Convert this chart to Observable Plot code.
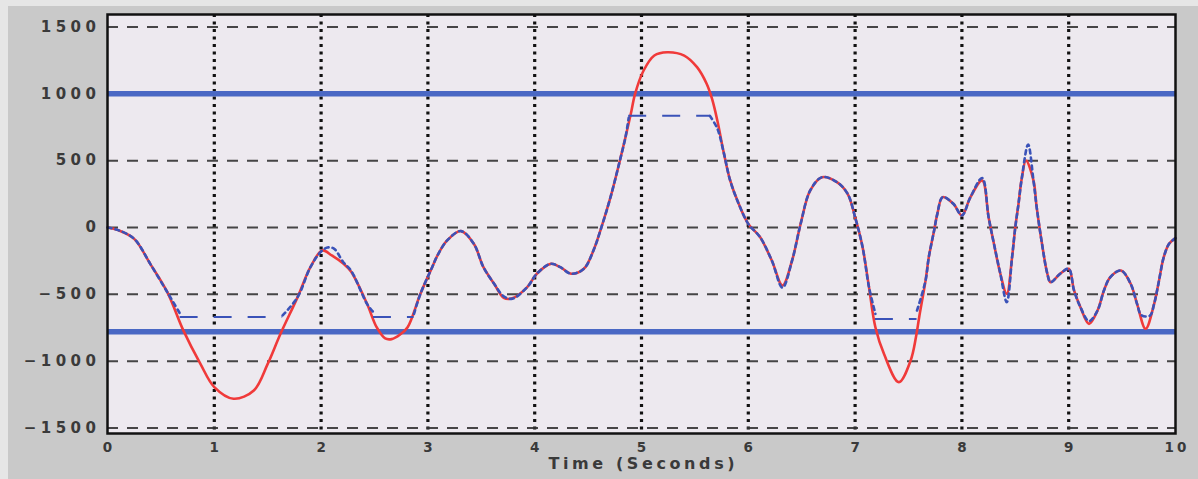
<!DOCTYPE html>
<html>
<head>
<meta charset="utf-8">
<script src="https://cdn.jsdelivr.net/npm/d3@7"></script>
<script src="https://cdn.jsdelivr.net/npm/@observablehq/plot@0.6"></script>
<style>
  html, body { margin: 0; padding: 0; width: 1198px; height: 479px; overflow: hidden; background: #e6e6e6; }
  #panel { position: absolute; left: 8px; top: 6px; width: 1190px; height: 473px; background: #c9c9c9; }
  #chart { position: absolute; left: 0; top: 0; }
  #chart svg { background: transparent; }
</style>
</head>
<body>
<div id="panel"></div>
<div id="chart"></div>
<script>
// ---- data ----
const xTicks = [0, 1, 2, 3, 4, 5, 6, 7, 8, 9, 10];
const yTicks = [-1500, -1000, -500, 0, 500, 1000, 1500];
const limitLines = [1000, -780];
const xLabel = "Time (Seconds)";

// red: original signal
const redT = [0,0.10,0.25,0.40,0.56,0.71,0.87,1.00,1.18,1.37,1.50,1.62,1.78,1.90,2.01,2.10,2.21,2.28,2.43,2.52,2.60,2.66,2.74,2.81,2.93,3.04,3.09,3.18,3.31,3.43,3.52,3.62,3.71,3.79,3.93,4.02,4.15,4.24,4.34,4.46,4.55,4.62,4.71,4.79,4.85,4.90,4.94,5.02,5.12,5.24,5.40,5.52,5.61,5.66,5.71,5.77,5.83,5.91,6.00,6.11,6.22,6.32,6.41,6.49,6.58,6.69,6.83,6.93,7.00,7.07,7.13,7.19,7.27,7.41,7.52,7.57,7.60,7.66,7.69,7.74,7.77,7.82,7.92,8.00,8.08,8.19,8.25,8.30,8.36,8.42,8.47,8.50,8.53,8.56,8.60,8.67,8.70,8.75,8.80,8.83,8.92,9.00,9.05,9.11,9.19,9.27,9.33,9.39,9.49,9.58,9.64,9.72,9.80,9.84,9.89,9.94,10.00];
const redV = [0,-20,-85,-272,-484,-770,-1020,-1194,-1281,-1219,-1020,-795,-521,-297,-172,-209,-272,-330,-571,-746,-830,-835,-800,-746,-496,-297,-209,-97,-27,-122,-297,-421,-526,-530,-446,-346,-272,-297,-346,-309,-172,-10,227,476,675,850,1000,1174,1286,1311,1286,1199,1075,963,800,560,352,177,27,-72,-247,-434,-247,27,277,376,339,252,77,-147,-446,-746,-945,-1157,-995,-820,-671,-396,-222,-22,102,227,177,90,227,352,77,-122,-346,-496,-222,2,177,364,501,352,152,-122,-346,-409,-346,-309,-471,-596,-721,-621,-471,-371,-322,-421,-571,-758,-571,-421,-222,-122,-80];

// blue: limited signal (null = saturated stretch, drawn below as dashed)
const blueT = [0,0.10,0.25,0.40,0.56,0.68,0.69,1.64,1.78,1.90,2.00,2.06,2.12,2.21,2.28,2.43,2.49,2.50,2.87,2.93,3.04,3.09,3.18,3.31,3.43,3.52,3.62,3.71,3.79,3.93,4.02,4.15,4.24,4.34,4.46,4.55,4.62,4.71,4.79,4.85,4.88,4.89,5.64,5.71,5.77,5.83,5.91,6.00,6.11,6.22,6.32,6.41,6.49,6.58,6.69,6.83,6.93,7.00,7.07,7.13,7.19,7.20,7.58,7.66,7.69,7.74,7.77,7.82,7.92,8.00,8.08,8.19,8.25,8.30,8.36,8.42,8.47,8.50,8.53,8.56,8.62,8.67,8.70,8.75,8.80,8.83,8.92,9.00,9.05,9.11,9.19,9.27,9.33,9.39,9.49,9.58,9.64,9.68,9.76,9.80,9.84,9.89,9.94,10.00];
const blueV = [0,-20,-85,-272,-484,-646,null,-658,-521,-297,-180,-150,-158,-262,-322,-571,-634,null,-646,-496,-297,-209,-97,-27,-122,-297,-421,-515,-533,-446,-346,-272,-297,-346,-309,-172,-10,227,476,675,820,null,835,740,560,352,177,27,-72,-247,-450,-247,27,277,376,339,252,77,-147,-446,-646,null,-621,-396,-222,-22,102,227,177,90,227,370,77,-122,-346,-559,-222,2,177,364,621,352,152,-122,-346,-409,-346,-309,-471,-596,-700,-621,-471,-371,-322,-421,-571,-655,-660,-571,-421,-222,-122,-80];

// saturated stretches of the blue signal
const clipStart = [0.68, 2.49, 4.88, 7.19];
const clipEnd   = [1.64, 2.87, 5.64, 7.58];
const clipLevel = [-670, -670, 835, -685];

// ---- chart ----
const redIdx = d3.range(redT.length);
const blueIdx = d3.range(blueT.length);
const clipIdx = d3.range(clipStart.length);
const gridX = xTicks.filter(d => d > 0 && d < 10);

const chart = Plot.plot({
  width: 1198,
  height: 479,
  marginLeft: 107,
  marginRight: 23,
  marginTop: 14,
  marginBottom: 46,
  style: {background: "transparent", fontFamily: "DejaVu Sans", overflow: "visible"},
  x: {domain: [0, 10]},
  y: {domain: [-1541, 1593]},
  marks: [
    Plot.frame({fill: "#ede9ef", stroke: null}),
    Plot.ruleX(gridX, {x: d => d, stroke: "#111", strokeWidth: 3.2, strokeDasharray: "3,4.5"}),
    Plot.ruleY(yTicks, {y: d => d, stroke: "#333", strokeWidth: 2, strokeDasharray: "11,9", strokeOpacity: 0.9}),
    Plot.ruleY(limitLines, {y: d => d, stroke: "#4a68c4", strokeWidth: 5.5}),
    Plot.line(redIdx, {x: i => redT[i], y: i => redV[i], stroke: "#f03a3a", strokeWidth: 2.6, curve: "catmull-rom"}),
    Plot.line(blueIdx, {x: i => blueT[i], y: i => blueV[i], stroke: "#3a52b8", strokeWidth: 2.6, strokeDasharray: "4,4", curve: "catmull-rom"}),
    Plot.ruleY(clipIdx, {x1: i => clipStart[i], x2: i => clipEnd[i], y: i => clipLevel[i], stroke: "#3a52b8", strokeWidth: 2, strokeDasharray: "18,16"}),
    Plot.frame({stroke: "#111", strokeWidth: 2.5}),
    Plot.axisY(yTicks, {tickSize: 0, tickPadding: 7, tickFormat: d3.format("d"), fontFamily: "DejaVu Sans", fontSize: 15, fontWeight: "bold", fill: "#3a3a3a"}),
    Plot.axisX(xTicks, {tickSize: 0, tickPadding: 9, tickFormat: d3.format("d"), label: null, fontFamily: "DejaVu Sans", fontSize: 13.5, fontWeight: "bold", fill: "#3a3a3a"}),
    Plot.text([xLabel], {frameAnchor: "bottom", text: d => d, dy: 35.5, fontSize: 16, fontWeight: "bold", fill: "#3a3a3a", fontFamily: "DejaVu Sans"})
  ]
});
// widen the lettering like the reference
const svg = d3.select(chart);
svg.selectAll('[aria-label="y-axis tick label"] text').style("letter-spacing", "4.5px");
svg.selectAll('[aria-label="x-axis tick label"] text').style("letter-spacing", "3px").attr("dx", "1.5");
svg.selectAll("text").filter(function () { return this.textContent === xLabel; })
  .style("letter-spacing", "3.6px").attr("dx", "1.8");
document.getElementById("chart").appendChild(chart);
</script>
</body>
</html>
